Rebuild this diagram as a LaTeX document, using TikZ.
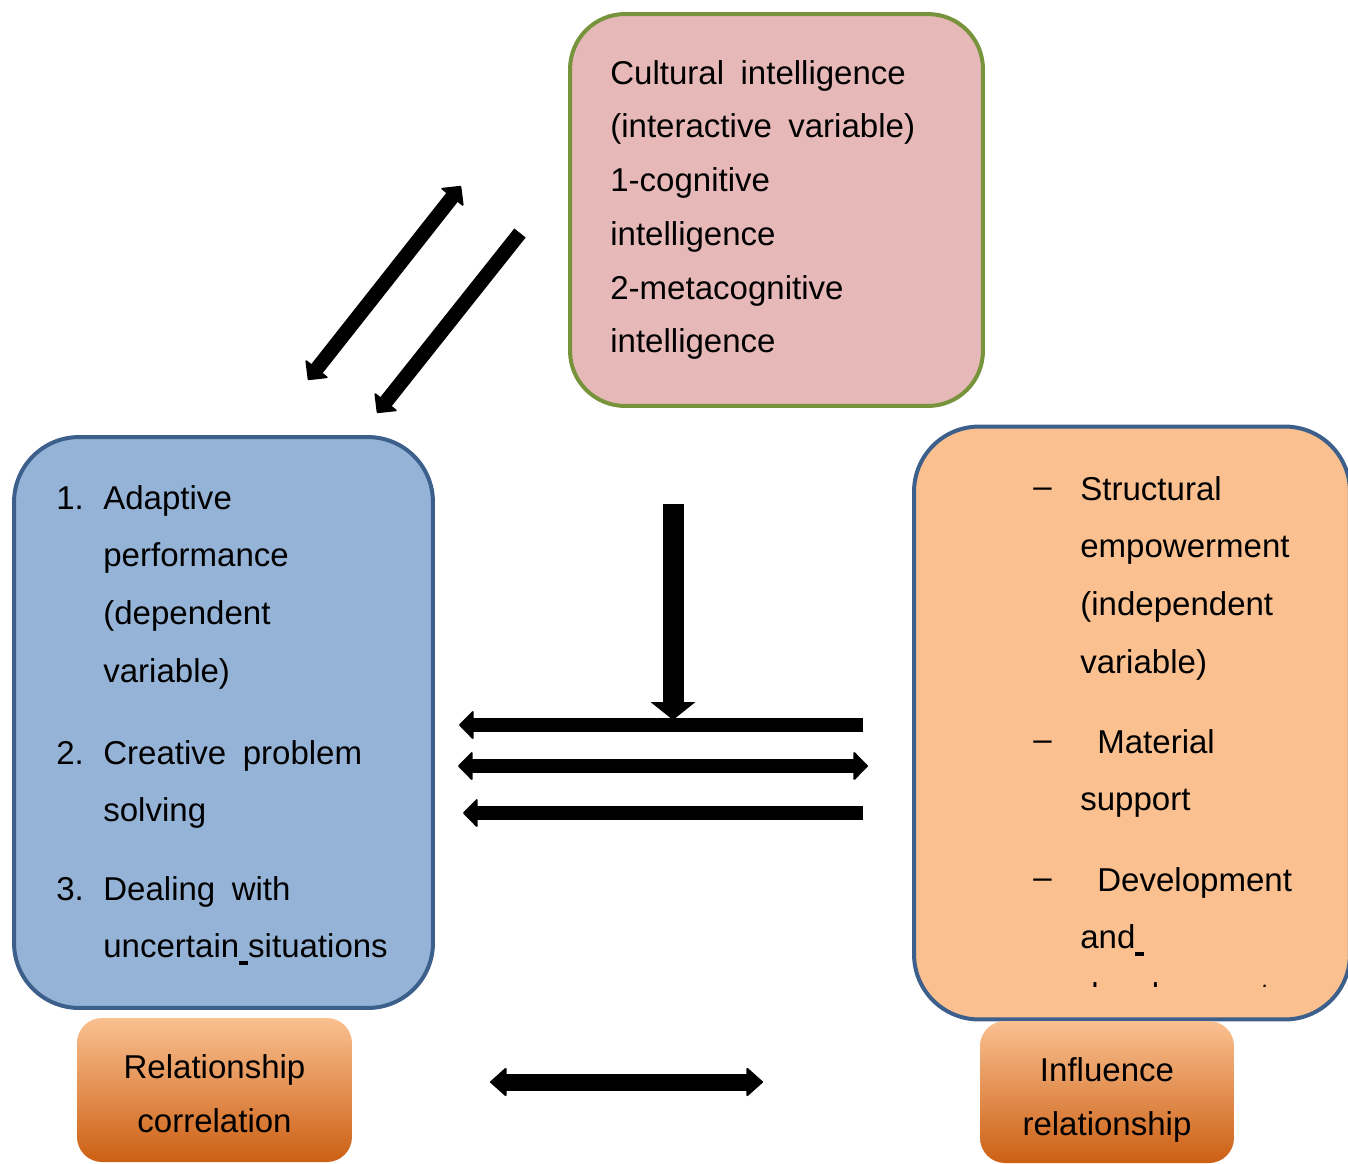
\documentclass[tikz,border=0pt]{standalone}
\usepackage{fontspec}
\setmainfont{Liberation Sans}
\usetikzlibrary{arrows.meta}
\usetikzlibrary{positioning}
\definecolor{cultfill}{HTML}{E6B8B7}
\definecolor{cultline}{HTML}{77933C}
\definecolor{adaptfill}{HTML}{95B3D7}
\definecolor{empfill}{HTML}{FAC090}
\definecolor{boxline}{HTML}{3D5F8C}
\definecolor{tagtop}{HTML}{FAC090}
\definecolor{tagmid}{HTML}{F39A50}
\definecolor{tagbot}{HTML}{CC6014}
\newcommand{\tagfont}{\fontsize{18.8}{30.6}\selectfont}
\newcommand{\listfont}{\fontsize{18.8}{32.9}\selectfont}
\newcommand{\gapmark}{\rule[-0.14cm]{0.18cm}{0.07cm}}
\newcommand{\wsp}{\hspace{0.33cm}}
\newcommand{\dashnode}[2]{\node(#1)[entry=1cm] at (#2) {\raisebox{0.05cm}{--}}}

\begin{document}
\begin{tikzpicture}[
        x=0.02cm, y=-0.02cm,
        every node/.style={inner sep=0pt},
        varbox/.style={rectangle,rounded corners=1.3cm,line width=0.08cm},
        tagbox/.style={rectangle,rounded corners=0.5cm,top color=tagtop,
                       middle color=tagmid,bottom color=tagbot},
        tagtext/.style={align=center,font=\tagfont},
        entry/.style={anchor=base west,text width=#1,align=left,font=\listfont},
        entry/.default=7cm,
        fat/.style={line width=0.29cm},
        >={Triangle[width=0.6cm,length=0.3cm,line width=1pt,round]}
      ]
      \useasboundingbox (0,0) rectangle (1348,1163);

      % boxes
      \node(cq)[varbox,rounded corners=1.1cm,fill=cultfill,draw=cultline,
                minimum width=8.26cm,minimum height=7.84cm] at (776.5,210) {};
      \node(ap)[varbox,fill=adaptfill,draw=boxline,
                minimum width=8.38cm,minimum height=11.42cm] at (223.5,722.5) {};
      \node(se)[varbox,fill=empfill,draw=boxline,
                minimum width=8.72cm,minimum height=11.86cm] at (1132,723) {};
      \node(rel)[tagbox,minimum width=5.5cm,minimum height=2.88cm] at (214.5,1090) {};
      \node(inf)[tagbox,minimum width=5.08cm,minimum height=2.84cm] at (1107,1092) {};
      \node(reltext)[tagtext] at (214.5,1094) {Relationship\\correlation};
      \node(inftext)[tagtext] at (1107,1100) {Influence\\relationship};

      % texts
      \node(cqtext)[entry=8cm,font=\tagfont] at (610,84)
                {Cultural\wsp intelligence\\(interactive\wsp variable)\\1-cognitive\\intelligence\\2-metacognitive\\intelligence};
      \node(ap1n)[entry=1cm] at (56,509) {1.};
      \node(ap1)[entry] at (103,509) {Adaptive\\performance\\(dependent\\variable)};
      \node(ap2n)[entry=1cm] at (56,764) {2.};
      \node(ap2)[entry] at (103,764) {Creative\wsp problem\\solving};
      \node(ap3n)[entry=1cm] at (56,900) {3.};
      \node(ap3)[entry] at (103,900) {Dealing\wsp with\\uncertain\gapmark{}situations};
      \begin{scope}
        \clip (912,425) rectangle (1348,986);
        \dashnode{se1n}{1033,500};
        \node(se1)[entry] at (1080,500) {Structural\\empowerment\\(independent\\variable)};
        \dashnode{se2n}{1033,753};
        \node(se2)[entry] at (1080,753) {\hspace{0.34cm}Material\\support};
        \dashnode{se3n}{1033,891};
        \node(se3)[entry] at (1080,891) {\hspace{0.34cm}Development\\and\gapmark\\development};
      \end{scope}

      % arrow ends
      \coordinate (d1a) at (308,380);
      \coordinate (d1b) at (461,186);
      \coordinate (d2a) at (520,233);
      \coordinate (d2b) at (377,413);
      \coordinate (vtop) at (673,504);
      \coordinate (vbot) at (673,720);
      \coordinate (h1a) at (863,725);
      \coordinate (h1b) at (459,725);
      \coordinate (h2a) at (458,766);
      \coordinate (h2b) at (868,766);
      \coordinate (h3a) at (863,813);
      \coordinate (h3b) at (463,813);
      \coordinate (bota) at (490,1082);
      \coordinate (botb) at (763,1082);

      \draw[fat,<->] (d1a) -- (d1b);
      \draw[fat,->] (d2a) -- (d2b);
      \draw[fat,->] (h1a) -- (h1b);
      \draw[fat,<->] (h2a) -- (h2b);
      \draw[fat,->] (h3a) -- (h3b);
      \draw[line width=0.42cm,-{Triangle[width=0.88cm,length=0.36cm]}] (vtop) -- (vbot);
      \draw[line width=0.34cm,{Triangle[width=0.6cm,length=0.34cm,line width=1pt,round]}-{Triangle[width=0.6cm,length=0.34cm,line width=1pt,round]}] (bota) -- (botb);
    \end{tikzpicture}
\end{document}
